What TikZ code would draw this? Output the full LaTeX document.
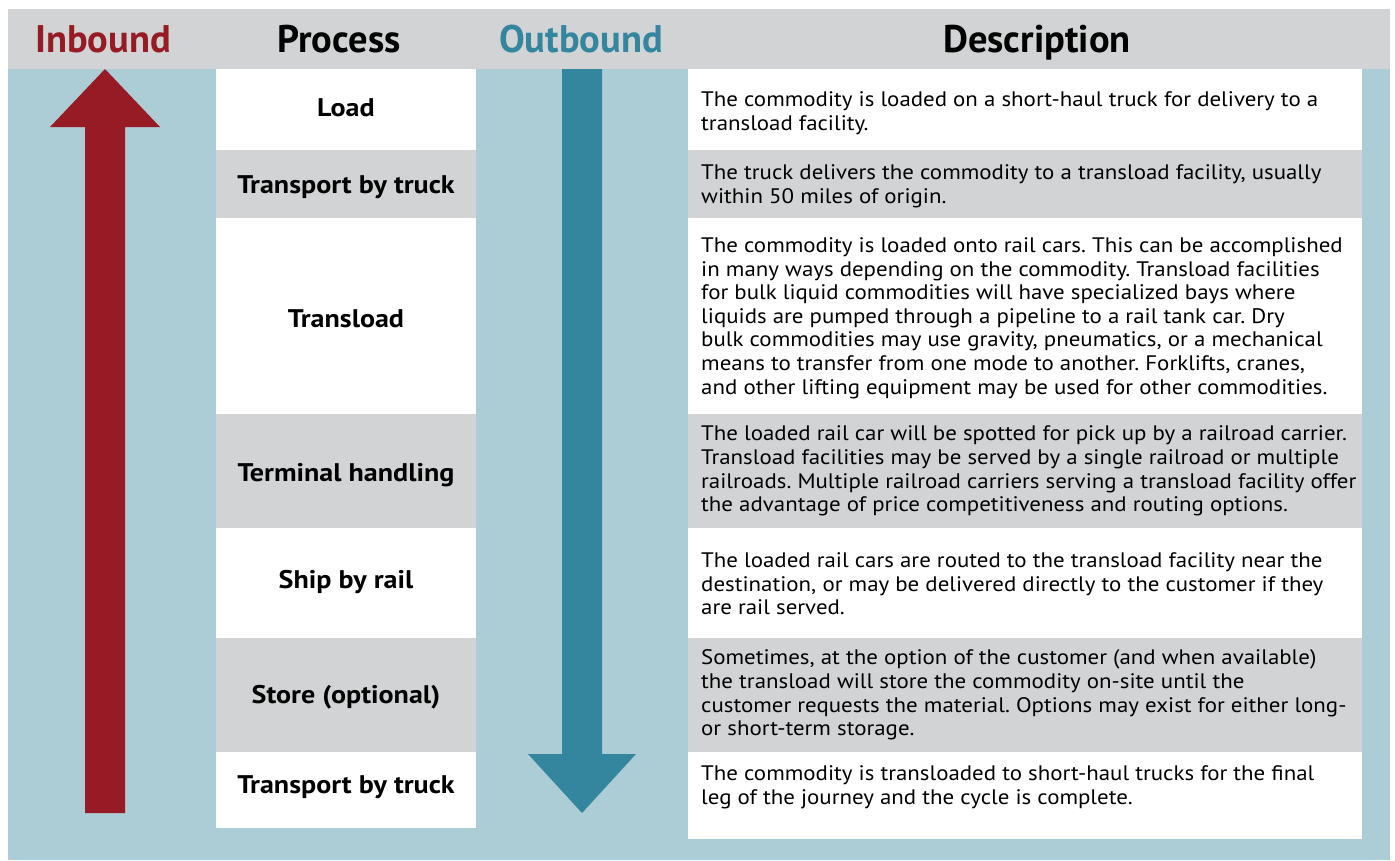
\documentclass[tikz,border=0pt]{standalone}
\usepackage{fontspec}
\setmainfont{PT Sans}
\newfontfamily\descfont[FakeStretch=1.09]{PT Sans}
\newfontfamily\procfont[FakeStretch=1.1]{PT Sans}
\definecolor{bgblue}{HTML}{ADCDD6}
\definecolor{hdrgrey}{HTML}{D1D3D4}
\definecolor{inred}{HTML}{971B24}
\definecolor{outteal}{HTML}{33869E}
\frenchspacing
\begin{document}
\begin{tikzpicture}[x=1pt,y=-1pt,
  hdr/.style={anchor=base,font=\fontsize{38.5}{42}\selectfont\bfseries,inner sep=0pt},
  proc/.style={anchor=base,font=\procfont\fontsize{25.5}{30}\selectfont\bfseries,inner sep=0pt},
  desc/.style={anchor=west,align=left,font=\descfont\fontsize{21}{23.6}\selectfont,inner sep=0pt}]
\useasboundingbox (0,0) rectangle (1395,860);
\fill[white] (0,0) rectangle (1395,860);
\fill[bgblue] (8,9) rectangle (1390,860);
\fill[hdrgrey] (8,9) rectangle (1390,69);
% process column
\fill[white]   (216,69)  rectangle (476,150);
\fill[hdrgrey] (216,150) rectangle (476,218);
\fill[white]   (216,218) rectangle (476,414);
\fill[hdrgrey] (216,414) rectangle (476,528);
\fill[white]   (216,528) rectangle (476,638);
\fill[hdrgrey] (216,638) rectangle (476,752);
\fill[white]   (216,752) rectangle (476,828);
% description column
\fill[white]   (688,69)  rectangle (1362,150);
\fill[hdrgrey] (688,150) rectangle (1362,218);
\fill[white]   (688,218) rectangle (1362,414);
\fill[hdrgrey] (688,414) rectangle (1362,528);
\fill[white]   (688,528) rectangle (1362,638);
\fill[hdrgrey] (688,638) rectangle (1362,752);
\fill[white]   (688,752) rectangle (1362,839);
% arrows
\fill[inred] (85,813) -- (85,127) -- (50,127) -- (105,69) -- (160,127) -- (125,127) -- (125,813) -- cycle;
\fill[outteal] (562,69) -- (602,69) -- (602,754) -- (636,754) -- (582,813) -- (528,754) -- (562,754) -- cycle;
% headers
\node[hdr,text=inred]   (hin)   at (103,52)  {Inbound};
\node[hdr]              (hproc) at (339,52)  {Process};
\node[hdr,text=outteal] (hout)  at (581,52)  {Outbound};
\node[hdr]              (hdesc) at (1037,52) {Description};
% process labels
\node[proc] (p1) at (346,116) {Load};
\node[proc] (p2) at (346,193) {Transport by truck};
\node[proc] (p3) at (346,327) {Transload};
\node[proc] (p4) at (346,481) {Terminal handling};
\node[proc] (p5) at (346,588) {Ship by rail};
\node[proc] (p6) at (346,703) {Store (optional)};
\node[proc] (p7) at (346,793) {Transport by truck};
% descriptions
\node[desc] (d1) at (701,113) {The commodity is loaded on a short-haul truck for delivery to a\\transload facility.};
\node[desc] (d2) at (701,186) {The truck delivers the commodity to a transload facility, usually\\within 50 miles of origin.};
\node[desc] (d3) at (701,318) {The commodity is loaded onto rail cars. This can be accomplished\\in many ways depending on the commodity. Transload facilities\\for bulk liquid commodities will have specialized bays where\\liquids are pumped through a pipeline to a rail tank car. Dry\\bulk commodities may use gravity, pneumatics, or a mechanical\\means to transfer from one mode to another. Forklifts, cranes,\\and other lifting equipment may be used for other commodities.};
\node[desc] (d4) at (701,471) {The loaded rail car will be spotted for pick up by a railroad carrier.\\Transload facilities may be served by a single railroad or multiple\\railroads. Multiple railroad carriers serving a transload facility offer\\the advantage of price competitiveness and routing options.};
\node[desc] (d5) at (701,584) {The loaded rail cars are routed to the transload facility near the\\destination, or may be delivered directly to the customer if they\\are rail served.};
\node[desc] (d6) at (701,695) {Sometimes, at the option of the customer (and when available)\\the transload will store the commodity on-site until the\\customer requests the material. Options may exist for either long-\\or short-term storage.};
\node[desc] (d7) at (701,787) {The commodity is transloaded to short-haul trucks for the final\\leg of the journey and the cycle is complete.};
\end{tikzpicture}
\end{document}
